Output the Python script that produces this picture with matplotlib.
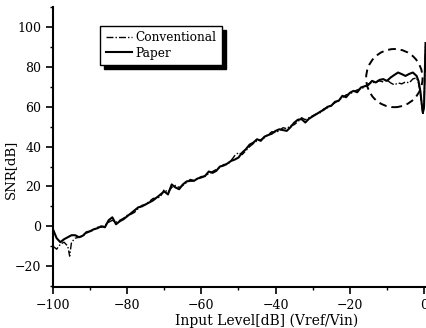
import numpy as np
import matplotlib
matplotlib.use('Agg')
import matplotlib.pyplot as plt
from matplotlib.patches import Ellipse
from matplotlib.ticker import MultipleLocator

plt.rcParams['font.family'] = ['DejaVu Serif', 'Liberation Serif']

# input level [dB] (Vref/Vin)
level = [-100, -99, -98, -97, -96, -95.5, -95, -94, -93, -92, -91, -90, -89, -88, -87,
         -86, -85, -84, -83, -82, -81, -80, -79, -78, -77, -76, -75, -74, -73, -72,
         -71, -70, -69, -68, -67, -66, -65, -64, -63, -62, -61, -60, -59, -58, -57,
         -56, -55, -54, -53, -52, -51, -50, -49, -48, -47, -46, -45, -44, -43, -42,
         -41, -40, -39, -38, -37, -36, -35, -34, -33, -32, -31, -30, -29, -28, -27,
         -26, -25, -24, -23, -22, -21, -20, -19, -18, -17, -16, -15, -14, -13, -12,
         -11, -10, -9, -8, -7, -6, -5, -4, -3, -2, -1.5, -1, -0.6, -0.3, 0.0, 0.4]

# SNR [dB], proposed ("Paper")
snr_paper = [-1.5, -6, -8, -6.5, -5.5, -5, -4.5, -4.5, -5.5, -4.8, -3, -2.5, -1.5, -1, 0,
             -0.5, 3, 4.5, 1, 2.5, 3.5, 5, 6.5, 8, 9.5, 10, 11, 12, 13, 14.5,
             16, 17.5, 16, 21, 19.5, 18.6, 21, 22.5, 22.8, 22.8, 24, 24.5, 25.3, 27.5, 26.8,
             27.8, 30, 30.5, 31.5, 32.8, 33.5, 34.5, 37, 38.7, 41, 42, 43.7, 42.9, 45, 45.8,
             46.5, 47.9, 48.7, 48.3, 47.9, 49.7, 52, 53.5, 53.8, 52.1, 54, 55.2, 56.3, 57.5, 58.5,
             60, 60.5, 62.5, 63, 65.5, 64.8, 67, 68, 67.3, 69.7, 70.3, 71, 73, 72.2, 73.5,
             73.9, 73, 74.7, 76, 77.2, 76.4, 75.5, 76.5, 77.2, 75.5, 73, 68, 61.3, 57, 60, 92]

# SNR [dB], conventional
snr_conv = [-10, -11.5, -9, -8, -10, -15, -8, -6, -5.5, -5, -3.5, -2.5, -2, -0.5, -0.5,
            0.5, 2, 3, 2, 3, 4, 5.5, 6, 7, 9, 10.5, 11, 12.5, 14, 14,
            15, 18.5, 17, 19.5, 20.5, 19.5, 20.5, 22, 23.5, 23, 24, 25, 25, 26.5, 27.5,
            28.5, 29.5, 31, 31, 33, 35.5, 37, 36, 38, 40, 41.5, 43, 43.5, 44.5, 46,
            47.5, 47, 48, 49.5, 49, 50.5, 51, 52.5, 54.5, 53.5, 54.5, 55.5, 56.5, 57, 59,
            59.5, 61, 62, 63.5, 64.5, 66, 66.5, 67.5, 68.5, 69, 70, 71.5, 72, 72.5, 73,
            72.5, 73.5, 72, 71, 72, 71.5, 72.5, 72, 74, 74.5, 72, 67, 60, 56, 60, 90]

fig = plt.figure(figsize=(4.27, 3.28), dpi=100)
ax = fig.add_axes([0.124, 0.125, 0.876, 0.853])

ax.plot(level, snr_conv, color='black', lw=1.0, linestyle=(0, (5, 1.5, 1, 1.5)),
        label='Conventional')
ax.plot(level, snr_paper, color='black', lw=1.5, label='Paper')

# dashed circle marking the high-level region
ax.add_patch(Ellipse((-8, 74.4), 15.2, 29.2, fill=False, edgecolor='black',
                     lw=1.4, linestyle=(0, (4, 2.5))))

ax.set_xlim(-100, 0.8)
ax.set_ylim(-30.5, 110)
ax.xaxis.set_major_locator(MultipleLocator(20))
ax.xaxis.set_minor_locator(MultipleLocator(10))
ax.yaxis.set_major_locator(MultipleLocator(20))
ax.yaxis.set_minor_locator(MultipleLocator(10))
ax.set_yticks([-20, 0, 20, 40, 60, 80, 100])
ax.spines['top'].set_visible(False)
ax.spines['right'].set_visible(False)
ax.spines['left'].set_linewidth(1.5)
ax.spines['bottom'].set_linewidth(1.5)
ax.tick_params(which='major', direction='out', length=5, width=1.2, labelsize=9)
ax.tick_params(which='minor', direction='out', length=2.5, width=1)

ax.set_xlabel('Input Level[dB] (Vref/Vin)', fontsize=10)
ax.xaxis.set_label_coords(0.57, -0.095)
ax.set_ylabel('SNR[dB]', fontsize=9.5)
ax.yaxis.set_label_coords(-0.095, 0.42)

leg = ax.legend(loc='upper left', bbox_to_anchor=(0.11, 0.955), fontsize=8.7,
                frameon=True, fancybox=False, handlelength=2.2, handletextpad=0.3,
                borderpad=0.45, labelspacing=0.2,
                shadow={'color': 'black', 'alpha': 1, 'ox': 3, 'oy': -3})
leg.get_frame().set_edgecolor('black')
leg.get_frame().set_linewidth(1.0)

fig.savefig('out.png', dpi=100)
